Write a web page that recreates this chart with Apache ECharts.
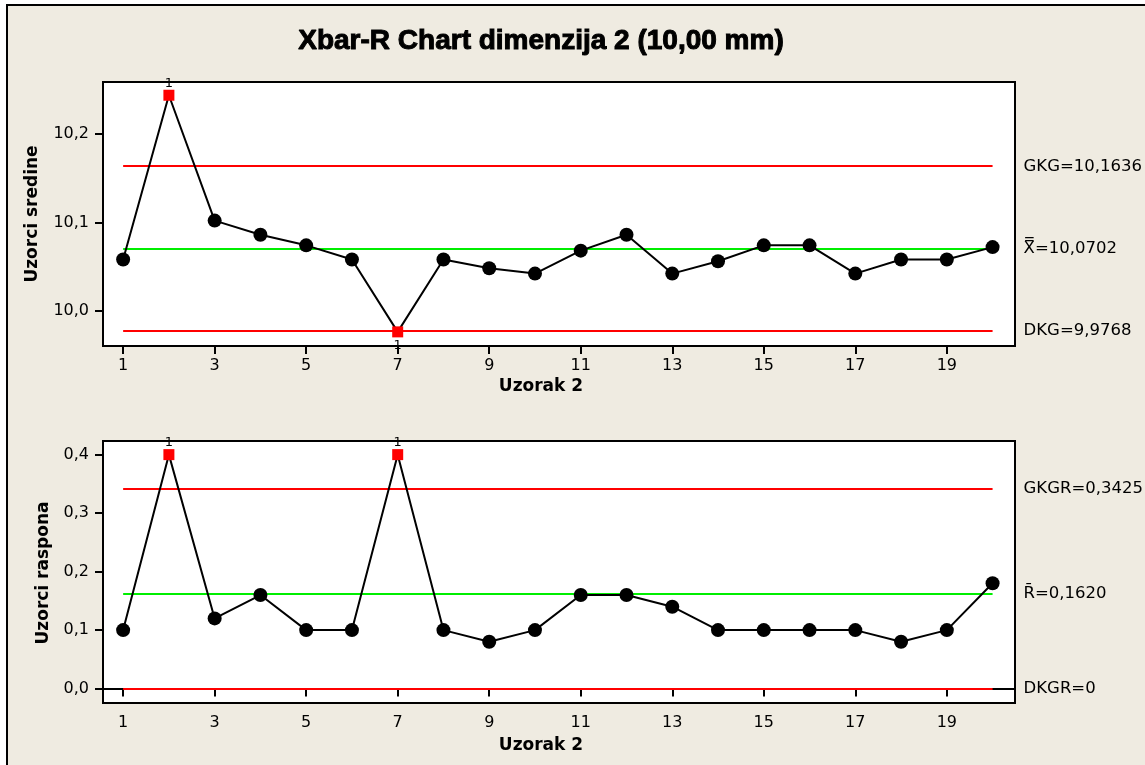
<!DOCTYPE html>
<html>
<head>
<meta charset="utf-8">
<script src="https://cdn.jsdelivr.net/npm/echarts@6/dist/echarts.min.js"></script>
<style>
html,body{margin:0;padding:0;background:#fff;}
#chart{width:1145px;height:765px;}
</style>
</head>
<body>
<div id="chart"></div>
<script>
// ---- data ----
const samples = [1,2,3,4,5,6,7,8,9,10,11,12,13,14,15,16,17,18,19,20];
const means = [10.058,10.244,10.102,10.086,10.074,10.058,9.976,10.058,10.048,10.042,10.068,10.086,10.042,10.056,10.074,10.074,10.042,10.058,10.058,10.072];
const ranges = [0.10,0.40,0.12,0.16,0.10,0.10,0.40,0.10,0.08,0.10,0.16,0.16,0.14,0.10,0.10,0.10,0.10,0.08,0.10,0.18];
const meanFlags = {2:'top', 7:'bottom'};
const rangeFlags = {2:'top', 7:'top'};
const meanLimits = {ucl:10.1636, cl:10.0702, lcl:9.9768};
const rangeLimits = {ucl:0.3425, cl:0.1620, lcl:0};
const meanLimitLabels = ['GKG=10,1636', 'X\u033F=10,0702', 'DKG=9,9768'];
const rangeLimitLabels = ['GKGR=0,3425', 'R\u0304=0,1620', 'DKGR=0'];
const xTicks = [1,3,5,7,9,11,13,15,17,19];
const meanTicks = [10.0, 10.1, 10.2];
const rangeTicks = [0.0, 0.1, 0.2, 0.3, 0.4];
const titleText = 'Xbar-R Chart dimenzija 2 (10,00 mm)';
const xName = 'Uzorak 2';
const meanName = 'Uzorci sredine';
const rangeName = 'Uzorci raspona';

const FONT = 'DejaVu Sans';
const fmt = v => v.toFixed(1).replace('.', ',');

function pointData(vals, flags){
  return vals.map((v,i)=>{
    const x = samples[i];
    const f = flags[x];
    if(!f) return [x,v];
    return {
      value:[x,v], symbol:'rect', symbolSize:11,
      itemStyle:{color:'#ff0000'},
      label:{show:true, formatter:'1', position:f, distance: f==='top'?0:2,
             fontFamily:FONT, fontSize:13, color:'#000'}
    };
  });
}
function limitLines(lim, labels){
  const vals=[lim.ucl, lim.cl, lim.lcl];
  const cols=['#ff0000','#00ee00','#ff0000'];
  return vals.map((v,i)=>[
    {coord:[samples[0], v], lineStyle:{color:cols[i], width:2, type:'solid'},
     label:{show:true, position:'end', distance:31, formatter:labels[i],
            fontFamily:FONT, fontSize:16.5, color:'#000'}},
    {coord:[samples[samples.length-1], v]}
  ]);
}

const axisCommon = {
  axisLine:{show:true, lineStyle:{color:'#000', width:2}},
  axisTick:{show:true, inside:false, length:8, lineStyle:{color:'#000', width:2}},
  splitLine:{show:false}
};

const grids = [
  {left:103, top:82, width:912, height:264, show:true, backgroundColor:'#fff', borderColor:'#000', borderWidth:2},
  {left:103, top:441, width:912, height:262, show:true, backgroundColor:'#fff', borderColor:'#000', borderWidth:2}
];

const nameFont = 'bold 17px "DejaVu Sans"';
const option = {
  backgroundColor:'#fff',
  animation:false,
  graphic:[
    {type:'rect', z:-100, shape:{x:7, y:5, width:1160, height:790},
     style:{fill:'#efebe1', stroke:'#000', lineWidth:2}},
    {type:'text', z:100, x:541, y:41, style:{text:titleText, font:'bold 28px "Liberation Sans"', fill:'#000', stroke:'#000', lineWidth:1, textAlign:'center', textVerticalAlign:'middle'}},
    {type:'text', z:100, x:541, y:387, style:{text:xName, font:nameFont, fill:'#000', textAlign:'center', textVerticalAlign:'middle'}},
    {type:'text', z:100, x:541, y:746, style:{text:xName, font:nameFont, fill:'#000', textAlign:'center', textVerticalAlign:'middle'}},
    {type:'text', z:100, x:33, y:214, rotation:Math.PI/2, style:{text:meanName, font:nameFont, fill:'#000', textAlign:'center', textVerticalAlign:'middle'}},
    {type:'text', z:100, x:44, y:573, rotation:Math.PI/2, style:{text:rangeName, font:nameFont, fill:'#000', textAlign:'center', textVerticalAlign:'middle'}}
  ],
  grid: grids,
  xAxis:[0,1].map(g=>Object.assign({}, axisCommon, {
    type:'value', gridIndex:g, min:0.56, max:20.49,
    axisTick:Object.assign({}, axisCommon.axisTick, {customValues:xTicks}),
    axisLabel:{customValues:xTicks, fontFamily:FONT, fontSize:16, color:'#000', margin:12}
  })),
  yAxis:[
    Object.assign({}, axisCommon, {type:'value', gridIndex:0, min:9.96, max:10.259,
      axisTick:Object.assign({}, axisCommon.axisTick, {customValues:meanTicks}),
      axisLabel:{customValues:meanTicks, formatter:fmt, fontFamily:FONT, fontSize:16, color:'#000', margin:14}}),
    Object.assign({}, axisCommon, {type:'value', gridIndex:1, min:-0.0246, max:0.4233,
      axisTick:Object.assign({}, axisCommon.axisTick, {customValues:rangeTicks}),
      axisLabel:{customValues:rangeTicks, formatter:fmt, fontFamily:FONT, fontSize:16, color:'#000', margin:14}})
  ],
  series:[
    {type:'line', xAxisIndex:0, yAxisIndex:0, data:[], silent:true,
     markLine:{silent:true, symbol:'none', animation:false, data:limitLines(meanLimits, meanLimitLabels)}},
    {type:'line', xAxisIndex:1, yAxisIndex:1, data:[], silent:true,
     markLine:{silent:true, symbol:'none', animation:false, data:limitLines(rangeLimits, rangeLimitLabels)}},
    {type:'line', xAxisIndex:0, yAxisIndex:0, data:pointData(means, meanFlags),
     symbol:'circle', symbolSize:14, showAllSymbol:true,
     itemStyle:{color:'#000'}, lineStyle:{color:'#000', width:2}, z:5},
    {type:'line', xAxisIndex:1, yAxisIndex:1, data:pointData(ranges, rangeFlags),
     symbol:'circle', symbolSize:14, showAllSymbol:true,
     itemStyle:{color:'#000'}, lineStyle:{color:'#000', width:2}, z:5}
  ]
};
const chart = echarts.init(document.getElementById('chart'));
chart.setOption(option);
</script>
</body>
</html>
